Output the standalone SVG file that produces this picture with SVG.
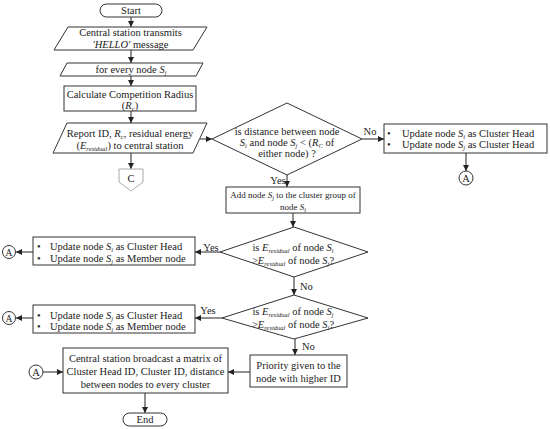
<svg xmlns="http://www.w3.org/2000/svg" width="550" height="429" viewBox="0 0 550 429">
<defs>
<marker id="ah" markerWidth="6" markerHeight="6" refX="6" refY="3" orient="auto" markerUnits="userSpaceOnUse">
<path d="M0,0 L6,3 L0,6 Z" fill="#222"/>
</marker>
<style>
.b{fill:#fff;stroke:#333;stroke-width:1}
.t{font-family:"Liberation Serif","Times New Roman",serif;font-size:10.5px;fill:#222}
.m{text-anchor:middle}
.sm{font-size:9px}
.i{font-style:italic}
.s{font-size:6.5px;font-style:italic}
.c{fill:none;stroke:#222;stroke-width:1;marker-end:url(#ah)}
.cg{fill:#fff;stroke:#aaa;stroke-width:1}
</style>
</defs>
<rect width="550" height="429" fill="#fff"/>

<g id="connectors">
<line class="c" x1="131" y1="17" x2="131" y2="27"/>
<line class="c" x1="131" y1="50" x2="131" y2="63"/>
<line class="c" x1="131" y1="76" x2="131" y2="86"/>
<line class="c" x1="131" y1="111" x2="131" y2="123"/>
<line class="c" x1="131" y1="153" x2="131" y2="169"/>
<line class="c" x1="200" y1="139" x2="212" y2="139"/>
<line class="c" x1="362" y1="139" x2="384" y2="139"/>
<line class="c" x1="466" y1="153" x2="466" y2="171"/>
<line class="c" x1="287" y1="175" x2="287" y2="187"/>
<line class="c" x1="293" y1="213" x2="293" y2="227"/>
<line class="c" x1="220" y1="252" x2="195" y2="252"/>
<line class="c" x1="33" y1="252" x2="16" y2="252"/>
<line class="c" x1="294" y1="277" x2="294" y2="295"/>
<line class="c" x1="222" y1="318" x2="195" y2="318"/>
<line class="c" x1="33" y1="318" x2="16" y2="318"/>
<line class="c" x1="295" y1="339" x2="295" y2="355"/>
<line class="c" x1="250" y1="372" x2="228" y2="372"/>
<line class="c" x1="43" y1="372" x2="63" y2="372"/>
<line class="c" x1="145" y1="393" x2="145" y2="413"/>
<text class="t" x="370" y="135" text-anchor="middle">No</text>
<text class="t" x="278" y="183.5" text-anchor="middle">Yes</text>
<text class="t" x="211" y="251" text-anchor="middle">Yes</text>
<text class="t" x="300" y="289.5">No</text>
<text class="t" x="208" y="314" text-anchor="middle">Yes</text>
<text class="t" x="302" y="350">No</text>
</g>

<g id="start">
<rect class="b" x="100" y="4" width="62" height="13" rx="6.5"/>
<text class="t m" x="131" y="14">Start</text>
</g>

<g id="hello">
<polygon class="b" points="68,27 207,27 193,50 54,50"/>
<text class="t m" x="130.5" y="36">Central station transmits</text>
<text class="t m" x="130.5" y="47.5"><tspan class="i">'HELLO'</tspan> message</text>
</g>

<g id="forevery">
<polygon class="b" points="67,63 203,63 196,76 60,76"/>
<text class="t m" x="131" y="72.5">for every node <tspan class="i">S</tspan><tspan class="s" dy="2">j</tspan></text>
</g>

<g id="calc">
<rect class="b" x="64" y="86" width="132" height="25"/>
<text class="t m" x="130" y="97.5">Calculate Competition Radius</text>
<text class="t m" x="130" y="108.5">(<tspan class="i">R</tspan><tspan class="s" dy="2">c</tspan><tspan dy="-2">)</tspan></text>
</g>

<g id="report">
<polygon class="b" points="67,123 207,123 193,153 53,153"/>
<text class="t m" x="130" y="136.5">Report ID, <tspan class="i">R</tspan><tspan class="s" dy="2">c</tspan><tspan dy="-2">, residual energy</tspan></text>
<text class="t m" x="130" y="148.5">(<tspan class="i">E</tspan><tspan class="s" dy="2">residual</tspan><tspan dy="-2">) to central station</tspan></text>
</g>

<g id="offpageC">
<path class="cg" d="M119,169 H143 V182 L131,191 L119,182 Z"/>
<text class="t m" x="131" y="181.5">C</text>
</g>

<g id="dist">
<polygon class="b" points="212,139 287,103 362,139 287,175"/>
<text class="t m" x="287" y="134.5">is distance between node</text>
<text class="t m" x="287" y="145.5"><tspan class="i">S</tspan><tspan class="s" dy="2">i</tspan><tspan dy="-2"> and node </tspan><tspan class="i">S</tspan><tspan class="s" dy="2">j</tspan><tspan dy="-2"> &lt; (</tspan><tspan class="i">R</tspan><tspan class="s" dy="2">C</tspan><tspan dy="-2"> of</tspan></text>
<text class="t m" x="287" y="157">either node) ?</text>
</g>

<g id="bothch">
<rect class="b" x="384" y="124" width="163" height="29"/>
<text class="t" x="387" y="136.5">•</text>
<text class="t" x="387" y="147.5">•</text>
<text class="t" x="402" y="136.5">Update node <tspan class="i">S</tspan><tspan class="s" dy="2">i</tspan><tspan dy="-2"> as Cluster Head</tspan></text>
<text class="t" x="402" y="147.5">Update node <tspan class="i">S</tspan><tspan class="s" dy="2">j</tspan><tspan dy="-2"> as Cluster Head</tspan></text>
</g>

<g id="a1">
<circle class="b" cx="466" cy="178" r="7"/>
<text class="t m" x="466" y="181.5">A</text>
</g>

<g id="addnode">
<rect class="b" x="226" y="187" width="134" height="26"/>
<text class="t m sm" x="293" y="197.5">Add node <tspan class="i">S</tspan><tspan class="s" dy="2">j</tspan><tspan dy="-2"> to the cluster group of</tspan></text>
<text class="t m sm" x="293" y="209.5">node <tspan class="i">S</tspan><tspan class="s" dy="2">i</tspan></text>
</g>

<g id="cmp1">
<polygon class="b" points="220,252 294,227 368,252 294,277"/>
<text class="t m" x="293" y="250.5">is <tspan class="i">E</tspan><tspan class="s" dy="2">residual</tspan><tspan dy="-2"> of node </tspan><tspan class="i">S</tspan><tspan class="s" dy="2">i</tspan></text>
<text class="t m" x="293" y="263.5">&gt;<tspan class="i">E</tspan><tspan class="s" dy="2">residual</tspan><tspan dy="-2"> of node </tspan><tspan class="i">S</tspan><tspan class="s" dy="2">j</tspan><tspan dy="-2">?</tspan></text>
</g>

<g id="left1">
<rect class="b" x="33" y="237" width="162" height="28"/>
<text class="t" x="37" y="249.5">•</text>
<text class="t" x="37" y="261.5">•</text>
<text class="t" x="50" y="249.5">Update node <tspan class="i">S</tspan><tspan class="s" dy="2">i</tspan><tspan dy="-2"> as Cluster Head</tspan></text>
<text class="t" x="50" y="261.5">Update node <tspan class="i">S</tspan><tspan class="s" dy="2">j</tspan><tspan dy="-2"> as Member node</tspan></text>
</g>

<g id="a2">
<circle class="b" cx="9" cy="252" r="6.5"/>
<text class="t m" x="9" y="255.5" style="font-size:9.5px">A</text>
</g>

<g id="cmp2">
<polygon class="b" points="222,318 294,295 368,318 294,339"/>
<text class="t m" x="293" y="315">is <tspan class="i">E</tspan><tspan class="s" dy="2">residual</tspan><tspan dy="-2"> of node </tspan><tspan class="i">S</tspan><tspan class="s" dy="2">j</tspan></text>
<text class="t m" x="293" y="327.5">&gt;<tspan class="i">E</tspan><tspan class="s" dy="2">residual</tspan><tspan dy="-2"> of node </tspan><tspan class="i">S</tspan><tspan class="s" dy="2">i</tspan><tspan dy="-2">?</tspan></text>
</g>

<g id="left2">
<rect class="b" x="33" y="305" width="162" height="28"/>
<text class="t" x="37" y="318.5">•</text>
<text class="t" x="37" y="329.5">•</text>
<text class="t" x="50" y="318.5">Update node <tspan class="i">S</tspan><tspan class="s" dy="2">j</tspan><tspan dy="-2"> as Cluster Head</tspan></text>
<text class="t" x="50" y="329.5">Update node <tspan class="i">S</tspan><tspan class="s" dy="2">i</tspan><tspan dy="-2"> as Member node</tspan></text>
</g>

<g id="a3">
<circle class="b" cx="9" cy="318" r="6.5"/>
<text class="t m" x="9" y="321.5" style="font-size:9.5px">A</text>
</g>

<g id="priority">
<rect class="b" x="250" y="355" width="97" height="32"/>
<text class="t m" x="298.5" y="368.5">Priority given to the</text>
<text class="t m" x="298.5" y="381.5">node with higher ID</text>
</g>

<g id="broadcast">
<rect class="b" x="63" y="348" width="165" height="45"/>
<text class="t m" x="145.5" y="361.5">Central station broadcast a matrix of</text>
<text class="t m" x="145.5" y="375">Cluster Head ID, Cluster ID, distance</text>
<text class="t m" x="145.5" y="387.5">between nodes to every cluster</text>
</g>

<g id="a4">
<circle class="b" cx="36" cy="372" r="7"/>
<text class="t m" x="36" y="375.5">A</text>
</g>

<g id="end">
<rect class="b" x="123" y="413" width="44" height="13" rx="6.5"/>
<text class="t m" x="145" y="423">End</text>
</g>
</svg>
